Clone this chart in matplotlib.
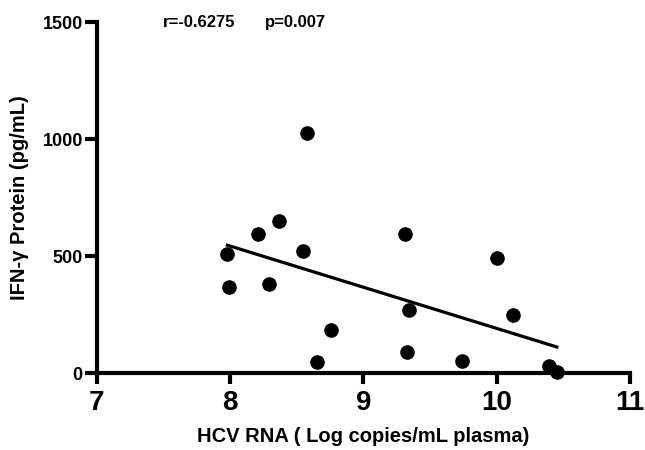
import numpy as np
import matplotlib
matplotlib.use("Agg")
import matplotlib.pyplot as plt

plt.rcParams['font.family'] = ['Liberation Sans', 'DejaVu Sans']
plt.rcParams['font.weight'] = 'bold'

hcv_rna = [8.58, 7.98, 7.99, 8.21, 8.37, 8.29, 8.55, 8.65, 8.76,
           9.31, 9.34, 9.33, 9.74, 10.00, 10.12, 10.39, 10.45]
ifn_gamma = [1024, 508, 367, 593, 649, 380, 520, 47, 183,
             593, 269, 90, 51, 490, 248, 30, 5]
x_ticks = [7, 8, 9, 10, 11]
y_ticks = [0, 500, 1000, 1500]
r_text = "r=-0.6275"
p_text = "p=0.007"

fig = plt.figure(figsize=(6.45, 4.5), dpi=100)
ax = fig.add_axes([0.150, 0.171, 0.827, 0.780])

ax.scatter(hcv_rna, ifn_gamma, s=90, color='black', zorder=3, clip_on=False)

slope, intercept = np.polyfit(hcv_rna, ifn_gamma, 1)
xl = np.array([min(hcv_rna), max(hcv_rna)])
ax.plot(xl, slope * xl + intercept, color='black', lw=2.3)

ax.set_xlim(7, 11)
ax.set_ylim(0, 1500)
ax.set_xticks(x_ticks)
ax.set_yticks(y_ticks)
ax.set_xticklabels([str(t) for t in x_ticks], fontsize=20, fontweight='bold')
ax.set_yticklabels([str(t) for t in y_ticks], fontsize=13, fontweight='bold')
for s in ['top', 'right']:
    ax.spines[s].set_visible(False)
for s in ['left', 'bottom']:
    ax.spines[s].set_linewidth(3)
ax.tick_params(axis='x', length=8, width=3, pad=4)
ax.tick_params(axis='y', length=9, width=3, pad=1)

ax.set_xlabel("HCV RNA ( Log copies/mL plasma)", fontsize=14.5, fontweight='bold', labelpad=8)
ax.set_ylabel("IFN-γ Protein (pg/mL)", fontsize=14.5, fontweight='bold', labelpad=10)

ax.text(0.124, 1.0, r_text, transform=ax.transAxes, fontsize=12, fontweight='bold', va='center', ha='left')
ax.text(0.315, 1.0, p_text, transform=ax.transAxes, fontsize=12, fontweight='bold', va='center', ha='left')

fig.savefig("out.png", dpi=100)
